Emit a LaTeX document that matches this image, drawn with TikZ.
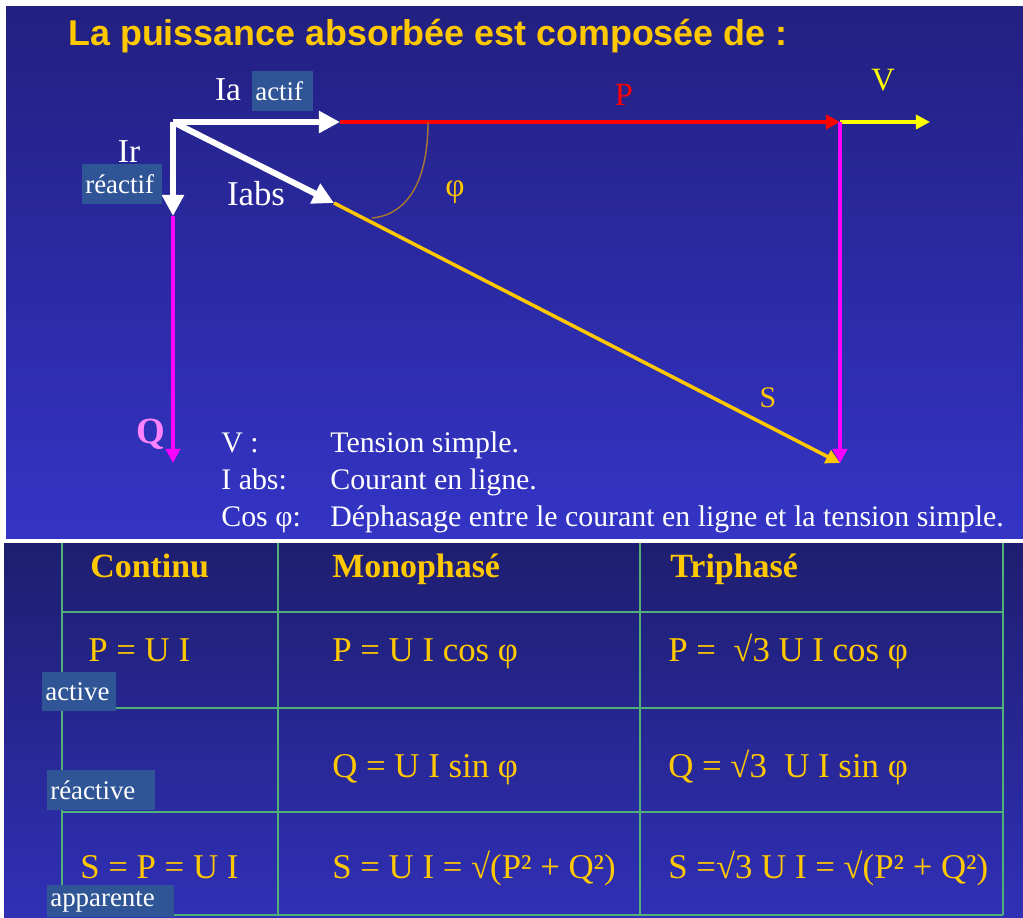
\documentclass[tikz,border=0pt]{standalone}
\usepackage{fontspec}
\setmainfont{Liberation Serif}
\newfontfamily\titrefont{Liberation Sans}
\usetikzlibrary{arrows.meta}

\definecolor{fondhaut}{RGB}{34,32,128}
\definecolor{fondbas}{RGB}{52,52,198}
\definecolor{tabhaut}{RGB}{30,30,112}
\definecolor{tabbas}{RGB}{48,48,182}
\definecolor{dore}{RGB}{255,200,0}
\definecolor{jaune}{RGB}{255,255,0}
\definecolor{fuchsia}{RGB}{255,0,255}
\definecolor{rose}{RGB}{255,130,255}
\definecolor{etiquette}{RGB}{47,85,151}
\definecolor{grille}{RGB}{80,176,120}
\definecolor{brun}{RGB}{170,120,50}

\tikzset{
  vecteur/.style={white,line width=3.4pt,-{Triangle[length=12pt,width=12pt]}},
  trait/.style={line width=2pt,-{Triangle[length=8pt,width=8pt]}},
  tagbox/.style={fill=etiquette,text=white,anchor=north west,inner xsep=0.06cm,
    inner ysep=0pt,minimum height=0.8cm,font=\fontsize{15.3}{15.3}\selectfont},
  legende/.style={text=white,anchor=base west,inner sep=0pt,
    font=\fontsize{17}{17}\selectfont},
  cellule/.style={text=dore,anchor=base west,inner sep=0pt,
    font=\fontsize{19.8}{19.8}\selectfont},
  entete/.style={cellule,font=\fontsize{19.3}{19.3}\selectfont\bfseries},
}

\begin{document}
\begin{tikzpicture}[x=0.02cm,y=-0.02cm]

\useasboundingbox (0,0) rectangle (1023,917);
\fill[white] (0,0) rectangle (1023,917);

% Fond du diagramme
\shade[top color=fondhaut,bottom color=fondbas] (6,6) rectangle (1023,538);

% Fond du tableau
\shade[top color=tabhaut,bottom color=tabbas] (4,543) rectangle (1023,917);

% Titre
\node[text=dore,anchor=base west,inner sep=0pt,
  font=\titrefont\fontsize{20.4}{20.4}\selectfont\bfseries]
  (titre) at (68,45) {La puissance absorbée est composée de :};

% Points du diagramme
\coordinate (O) at (173,122);
\coordinate (Ia) at (340,122);
\coordinate (Pf) at (840,122);
\coordinate (Vf) at (930,122);
\coordinate (Ir) at (173,216);
\coordinate (Qf) at (173,463);
\coordinate (Iabs) at (334,203);
\coordinate (Sf) at (840,463);

% Puissances
\draw[trait,red] (Ia) -- (Pf);
\draw[trait,jaune,line width=1.8pt] (Pf) -- (Vf);
\draw[trait,dore] (Iabs) -- (Sf);
\draw[trait,fuchsia,line width=2.2pt] (Ir) -- (Qf);
\draw[trait,fuchsia,line width=2.2pt] (Pf) -- (Sf);

% Angle phi
\draw[brun,line width=0.8pt] (428,122) .. controls (428,185) and (405,215) .. (372,218);

% Courants
\draw[vecteur] (O) -- (Ia);
\draw[vecteur] (O) -- (Ir);
\draw[vecteur] (O) -- (Iabs);

% Etiquettes
\node[text=white,anchor=base,inner sep=0pt,font=\fontsize{19}{19}\selectfont]
  (lIa) at (228,100) {Ia};
\node[tagbox,text width=1.10cm] (tagActif) at (252,71) {actif};
\node[text=white,anchor=base,inner sep=0pt,font=\fontsize{19}{19}\selectfont]
  (lIr) at (129,162) {Ir};
\node[tagbox,text width=1.48cm] (tagReactif) at (82,164) {réactif};
\node[text=white,anchor=base,inner sep=0pt,font=\fontsize{19.8}{19.8}\selectfont]
  (lIabs) at (256,205) {Iabs};
\node[text=dore,anchor=base,inner sep=0pt,font=\fontsize{19}{19}\selectfont]
  (lphi) at (455,196) {φ};
\node[text=red,anchor=base,inner sep=0pt,font=\fontsize{18.5}{18.5}\selectfont]
  (lP) at (624,105) {P};
\node[text=jaune,anchor=base,inner sep=0pt,font=\fontsize{18.5}{18.5}\selectfont]
  (lV) at (883,90) {V};
\node[text=dore,anchor=base,inner sep=0pt,font=\fontsize{17}{17}\selectfont]
  (lS) at (768,407) {S};
\node[text=rose,anchor=base,inner sep=0pt,font=\fontsize{21}{21}\selectfont\bfseries]
  (lQ) at (151,443) {Q};

% Legende
\foreach \n/\y/\a/\b in {
1/452/V :/Tension simple.,
2/489/I abs:/Courant en ligne.,
3/526/Cos φ:/Déphasage entre le courant en ligne et la tension simple.
}
{
\node[legende] (legA\n) at (221,\y) {\a};
\node[legende] (legB\n) at (330,\y) {\b};
}

% Grille du tableau
\foreach \x in {62,278,640,1003}
{
\draw[grille,line width=0.8pt] (\x,543) -- (\x,915);
}
\foreach \y in {612,708,812,915}
{
\draw[grille,line width=1.1pt] (62,\y) -- (1003,\y);
}

% En-tetes
\node[entete] (hCont) at (90,577) {Continu};
\node[entete] (hMono) at (332,577) {Monophasé};
\node[entete] (hTri) at (670,577) {Triphasé};

% Puissance active
\node[cellule] (pCont) at (88,661) {P = U I};
\node[cellule] (pMono) at (332,661) {P = U I cos φ};
\node[cellule] (pTri) at (668,661) {P = \ √3 U I cos φ};
\node[tagbox,text width=1.36cm,minimum height=0.78cm] (tagActive) at (42,672) {active};

% Puissance reactive
\node[cellule] (qMono) at (332,777) {Q = U I sin φ};
\node[cellule] (qTri) at (668,777) {Q = √3 \ U I sin φ};
\node[tagbox,text width=2.04cm] (tagReactive) at (47,770) {réactive};

% Puissance apparente
\node[cellule] (sCont) at (80,878) {S = P = U I};
\node[cellule] (sMono) at (332,878) {S = U I = √(P² + Q²)};
\node[cellule] (sTri) at (668,878) {S =√3 U I = √(P² + Q²)};
\node[tagbox,text width=2.42cm,minimum height=0.64cm] (tagApparente) at (47,885) {apparente};

\end{tikzpicture}
\end{document}
